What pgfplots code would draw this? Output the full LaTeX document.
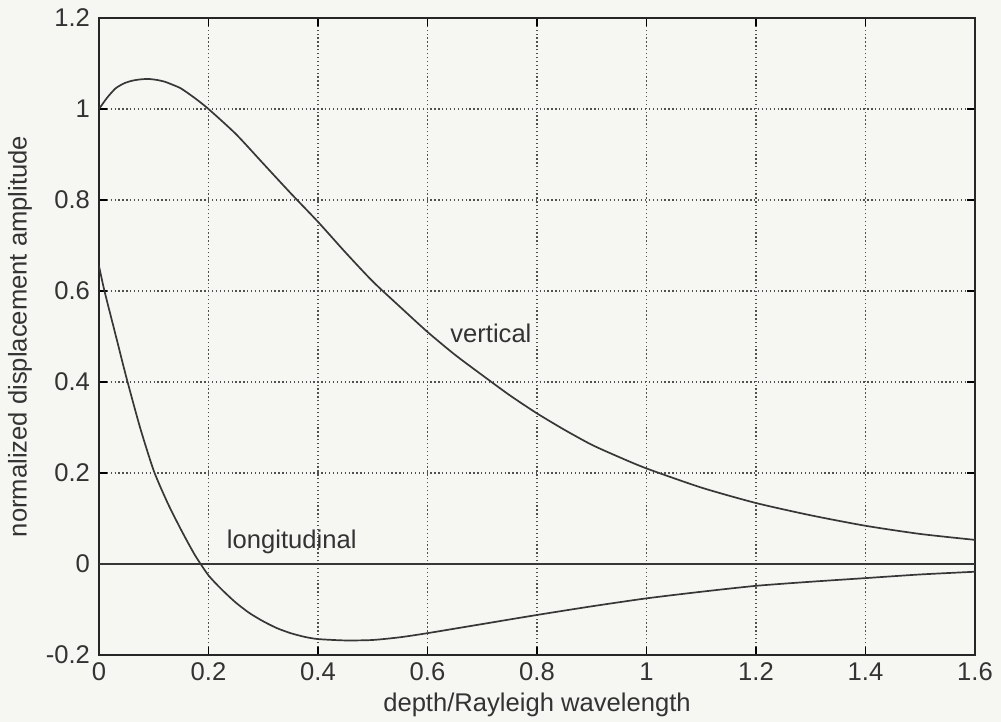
\documentclass[border=0pt]{standalone}
\usepackage{pgfplots}
\pgfplotsset{compat=1.18}
\usepackage{fontspec}
\setmainfont{Liberation Sans}
\usetikzlibrary{backgrounds}
\definecolor{bg}{RGB}{246,246,242}
\definecolor{ln}{RGB}{55,55,55}
\definecolor{gridc}{RGB}{80,80,80}
\newcommand{\lblfont}{\fontsize{12.8}{15}\selectfont}
\begin{document}
\begin{tikzpicture}
\begin{axis}[
  scale only axis,
  width=438pt, height=318.5pt,
  xmin=0, xmax=1.6, ymin=-0.2, ymax=1.2,
  xtick={0,0.2,...,1.6}, ytick={-0.2,0,0.2,...,1.2},
  xticklabels={0,0.2,0.4,0.6,0.8,1,1.2,1.4,1.6},
  yticklabels={-0.2,0,0.2,0.4,0.6,0.8,1,1.2},
  tick align=inside, tick pos=both,
  major tick length=4pt,
  every tick/.style={black, line width=0.8pt},
  axis line style={black!85, line width=0.9pt},
  grid=major,
  major grid style={gridc, line width=0.65pt, dash pattern=on 0.65pt off 1.3pt},
  font=\lblfont,
  ticklabel style={font=\lblfont, text=black!80},
  /pgf/number format/assume math mode=true,
  xticklabel style={yshift=-0.5pt},
  yticklabel style={xshift=-1pt},
  xlabel={depth/Rayleigh wavelength},
  ylabel={normalized displacement amplitude},
  xlabel style={at={(axis description cs:0.5,-0.0785)}, anchor=center, text=black!80},
  ylabel style={at={(axis description cs:-0.0902,0.5)}, anchor=center, rotate=0, text=black!80},
  clip=true,
]
\addplot[ln, line width=0.85pt] coordinates {(0,0) (1.6,0)};
\addplot[ln, line width=0.85pt, smooth, tension=0.4] coordinates {
(0,1.0) (0.015,1.025) (0.03,1.045) (0.045,1.056) (0.06,1.062) (0.075,1.065) (0.09,1.066) (0.105,1.064) (0.12,1.06) (0.135,1.053) (0.15,1.045) (0.175,1.024) (0.2,1.0)
(0.25,0.945) (0.3,0.88) (0.35,0.815) (0.4,0.752) (0.45,0.685) (0.5,0.621) (0.55,0.565) (0.6,0.51) (0.65,0.46) (0.7,0.415) (0.75,0.371) (0.8,0.331)
(0.85,0.295) (0.9,0.262) (0.95,0.235) (1.0,0.21) (1.1,0.168) (1.2,0.134) (1.3,0.107) (1.4,0.084) (1.5,0.066) (1.6,0.053)
};
\addplot[ln, line width=0.85pt, smooth, tension=0.4] coordinates {
(0,0.655) (0.01,0.6) (0.03,0.505) (0.05,0.41) (0.075,0.3) (0.1,0.205) (0.125,0.135) (0.15,0.075) (0.175,0.02) (0.2,-0.025)
(0.225,-0.057) (0.25,-0.085) (0.275,-0.108) (0.3,-0.126) (0.325,-0.141) (0.35,-0.152) (0.375,-0.16) (0.4,-0.165) (0.45,-0.168) (0.5,-0.167)
(0.55,-0.161) (0.6,-0.152) (0.7,-0.132) (0.8,-0.112) (0.9,-0.093) (1.0,-0.0755) (1.1,-0.061) (1.2,-0.048) (1.3,-0.039) (1.4,-0.031) (1.5,-0.023) (1.6,-0.017)
};
\node[anchor=base west, font=\lblfont, text=black!80, inner sep=0pt] at (axis cs:0.641,0.486) {vertical};
\node[anchor=base west, font=\lblfont, text=black!80, inner sep=0pt] at (axis cs:0.233,0.035) {longitudinal};
\end{axis}
\pgfresetboundingbox
\path[use as bounding box] ([shift={(-49.5pt,-33.5pt)}]current axis.south west) rectangle ([shift={(13pt,9pt)}]current axis.north east);
\begin{scope}[on background layer]
\fill[bg] ([shift={(-49.5pt,-33.5pt)}]current axis.south west) rectangle ([shift={(13pt,9pt)}]current axis.north east);
\end{scope}
\end{tikzpicture}
\end{document}
